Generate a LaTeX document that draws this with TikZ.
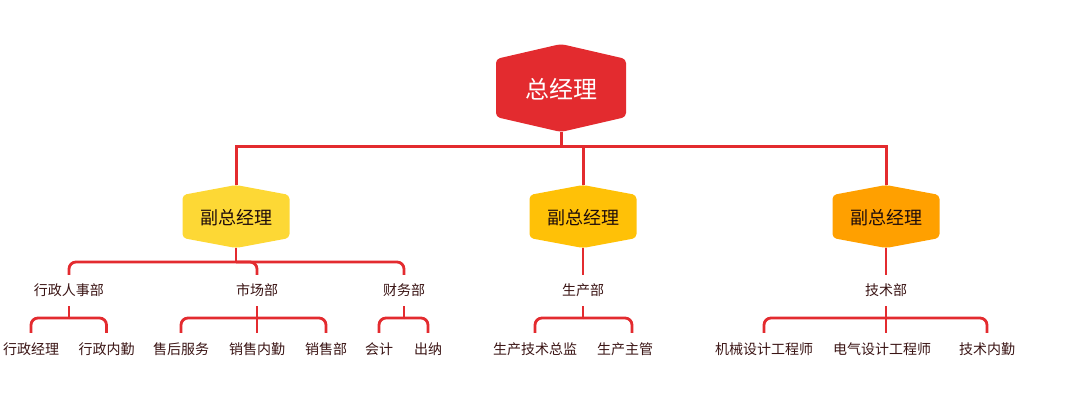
\documentclass[tikz,border=0pt]{standalone}
\usepackage{fontspec}
\newfontfamily\cjk{Noto Sans CJK SC}
\definecolor{lred}{HTML}{E32B2F}
\definecolor{hexA}{HTML}{FDD835}
\definecolor{hexB}{HTML}{FFC107}
\definecolor{hexC}{HTML}{FFA000}
\definecolor{txt}{HTML}{3A1414}
\definecolor{hextxt}{HTML}{1E0C0C}
\begin{document}
\begin{tikzpicture}[x=1pt,y=-1pt,
  hex/.style n args={2}{inner sep=0pt,
    path picture={\fill[#1, rounded corners=4pt]
      (path picture bounding box.north)
      -- ([yshift=-#2pt]path picture bounding box.north east)
      -- ([yshift=#2pt]path picture bounding box.south east)
      -- (path picture bounding box.south)
      -- ([yshift=#2pt]path picture bounding box.south west)
      -- ([yshift=-#2pt]path picture bounding box.north west)
      -- cycle;}},
  topbox/.style={hex={lred}{15}, minimum width=130pt, minimum height=88pt,
    text=white, font=\cjk\fontsize{24}{28}\selectfont,
    text height=25pt, text depth=3pt},
  subbox/.style={hex={#1}{10}, minimum width=107pt, minimum height=63pt,
    text=hextxt, font=\cjk\fontsize{18}{22}\selectfont,
    text height=18.6pt, text depth=3pt},
  dept/.style={inner sep=0pt, minimum height=31pt, text=txt,
    font=\cjk\fontsize{14}{17}\selectfont},
  leaf/.style={inner sep=0pt, minimum height=32pt, text=txt,
    font=\cjk\fontsize{14}{17}\selectfont, anchor=north},
  lone/.style={draw=lred, line width=3pt},
  ltwo/.style={draw=lred, line width=2.8pt},
  bendline/.style={ltwo, rounded corners=7pt}
]
\useasboundingbox (0,0) rectangle (1072,419);

% top
\node[topbox] (gm) at (561,88) {总经理};
\node[subbox=hexA] (h1) at (236,216.5) {副总经理};
\node[subbox=hexB] (h2) at (583,216.5) {副总经理};
\node[subbox=hexC] (h3) at (886,216.5) {副总经理};

\coordinate (bar) at (561,147);
\draw[lone] (gm.south) -- (bar);
\draw[lone] (bar) -| (h1.north);
\draw[lone] (bar) -| (h2.north);
\draw[lone] (bar) -| (h3.north);

% departments
\node[dept] (d1) at (69,290.5) {行政人事部};
\node[dept] (d2) at (257,290.5) {市场部};
\node[dept] (d3) at (404,290.5) {财务部};
\node[dept] (d4) at (583,290.5) {生产部};
\node[dept] (d5) at (886,290.5) {技术部};

\coordinate (j1) at (236,262);
\draw[ltwo] (h1.south) -- (j1);
\draw[bendline] (j1) -| (d1.north);
\draw[bendline] (j1) -| (d2.north);
\draw[bendline] (j1) -| (d3.north);
\draw[ltwo] (h2.south) -- (d4.north);
\draw[ltwo] (h3.south) -- (d5.north);

% leaves
\node[leaf] (a1) at (31,333) {行政经理};
\node[leaf] (a2) at (106.5,333) {行政内勤};
\node[leaf] (b1) at (181,333) {售后服务};
\node[leaf] (b2) at (257,333) {销售内勤};
\node[leaf] (b3) at (326,333) {销售部};
\node[leaf] (c1) at (379,333) {会计};
\node[leaf] (c2) at (428,333) {出纳};
\node[leaf] (p1) at (535,333) {生产技术总监};
\node[leaf] (p2) at (625,333) {生产主管};
\node[leaf] (t1) at (764,333) {机械设计工程师};
\node[leaf] (t2) at (882,333) {电气设计工程师};
\node[leaf] (t3) at (987,333) {技术内勤};

\coordinate (k1) at (69,318);
\draw[ltwo] (d1.south) -- (k1);
\draw[bendline] (k1) -| (a1.north);
\draw[bendline] (k1) -| (a2.north);

\coordinate (k2) at (257,318);
\draw[ltwo] (d2.south) -- (b2.north);
\draw[bendline] (k2) -| (b1.north);
\draw[bendline] (k2) -| (b3.north);

\coordinate (k3) at (404,318);
\draw[ltwo] (d3.south) -- (k3);
\draw[bendline] (k3) -| (c1.north);
\draw[bendline] (k3) -| (c2.north);

\coordinate (k4) at (583,318);
\draw[ltwo] (d4.south) -- (k4);
\draw[bendline] (k4) -| (p1.north);
\draw[bendline] (k4) -| ([xshift=7pt]p2.north);

\coordinate (k5) at (886,318);
\draw[ltwo] (d5.south) -- ([xshift=4pt]t2.north);
\draw[bendline] (k5) -| (t1.north);
\draw[bendline] (k5) -| (t3.north);
\end{tikzpicture}
\end{document}
